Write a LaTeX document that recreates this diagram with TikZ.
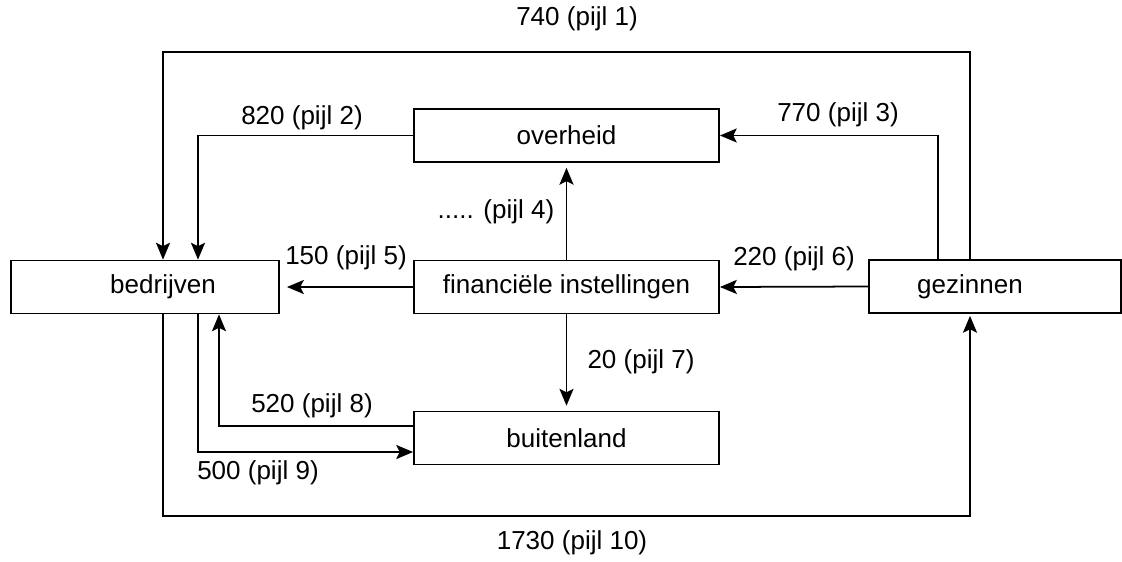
\documentclass[tikz,border=0pt]{standalone}
\usepackage{fontspec}
\setmainfont{Liberation Sans}
\usetikzlibrary{positioning,arrows.meta}

\begin{document}
\begin{tikzpicture}[
    x=0.025cm, y=-0.025cm,
    every node/.style={font=\fontsize{18.5}{22}\selectfont},
    box/.style={draw, line width=1.25pt, rectangle, minimum height=1.325cm, inner sep=0pt},
    flow/.style={-{Stealth[length=12pt, width=10pt, inset=2.5pt]}, line width=1.25pt},
    gap/.style={shorten >=3.5pt}
]
\useasboundingbox (0,0) rectangle (1122,561);

% Sectoren
\node[box, minimum width=6.7cm, label={[xshift=0.45cm]center:bedrijven}] (bedrijven) at (145,287) {};
\node[box, minimum width=7.625cm] (overheid) at (566.5,135.5) {overheid};
\node[box, minimum width=7.625cm] (financiele) at (566.5,287) {financiële instellingen};
\node[box, minimum width=7.625cm] (buitenland) at (566.5,438) {buitenland};
\node[box, minimum width=6.3cm, label={[xshift=-0.625cm]center:gezinnen}] (gezinnen) at (995,286.5) {};

% Hulplijnen
\coordinate (xa) at (163,0);
\coordinate (xb) at (198,0);
\coordinate (xc) at (219,0);
\coordinate (xd) at (938,0);
\coordinate (xe) at (970,0);
\coordinate (yt) at (0,52);
\coordinate (yb) at (0,516);
\coordinate (y8) at (0,426);
\coordinate (y9) at (0,452);

% Pijlen
\draw[flow] (gezinnen.north -| xe) -- (yt -| xe) -- (yt -| xa) -- (bedrijven.north -| xa);
\draw[flow] (overheid.west) -| (bedrijven.north -| xb);
\draw[flow] (gezinnen.north -| xd) |- (overheid.east);
\draw[flow, gap] (financiele.north) -- (overheid.south);
\draw[flow, shorten >=5pt] (financiele.west) -- (bedrijven.east);
\draw[flow] (gezinnen.west) -- (financiele.east);
\draw[flow, gap] (financiele.south) -- (buitenland.north);
\draw[flow] (buitenland.west |- y8) -| (bedrijven.south -| xc);
\draw[flow] (bedrijven.south -| xb) |- (buitenland.west |- y9);
\draw[flow, shorten >=1.4pt] (bedrijven.south -| xa) -- (yb -| xa) -| (gezinnen.south -| xe);

% Bedragen
\node (p1) at (577,19) {740 (pijl 1)};
\node (p2) at (302,118) {820 (pijl 2)};
\node (p3) at (838,115) {770 (pijl 3)};
\node (p4) at (496,212) {..... (pijl 4)};
\node (p5) at (346,258) {150 (pijl 5)};
\node (p6) at (794,259) {220 (pijl 6)};
\node (p7) at (641,362) {20 (pijl 7)};
\node (p8) at (312,406) {520 (pijl 8)};
\node (p9) at (258,473) {500 (pijl 9)};
\node (p10) at (572,543) {1730 (pijl 10)};

\end{tikzpicture}
\end{document}
